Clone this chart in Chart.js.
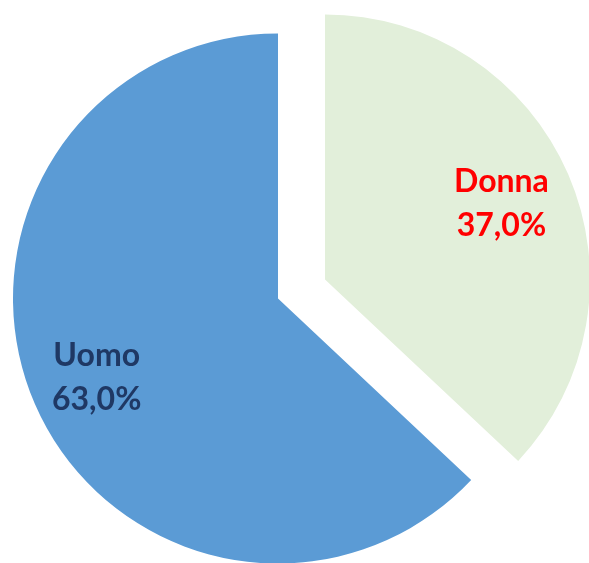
<!DOCTYPE html>
<html>
<head>
<meta charset="utf-8">
<script src="https://cdn.jsdelivr.net/npm/chart.js@4/dist/chart.umd.min.js"></script>
<style>
html,body{margin:0;padding:0;background:#fff;}
#wrap{width:589px;height:563px;position:relative;}
.layer{position:absolute;left:0;top:0;width:589px;height:563px;}
</style>
</head>
<body>
<div id="wrap">
  <div class="layer"><canvas id="cBase"></canvas></div>
  <div class="layer"><canvas id="cExploded"></canvas></div>
</div>
<script>
const categories = ["Donna", "Uomo"];
const values = [37.0, 63.0];
const valueLabels = ["37,0%", "63,0%"];

const sliceColors = ["#E2EFDA", "#5B9BD5"];
const labelColors = ["#FF0000", "#1F3864"];
const explodedIndex = 0;          // "Donna" slice is pulled out
const labelRadiusFrac = [0.709, 0.762];

function makeLabelPlugin(visibleIndex) {
  return {
    id: 'sliceLabels' + visibleIndex,
    afterDatasetsDraw(chart) {
      const ctx = chart.ctx;
      const arc = chart.getDatasetMeta(0).data[visibleIndex];
      if (!arc) return;
      const p = arc.getProps(['x','y','startAngle','endAngle','outerRadius'], true);
      const mid = (p.startAngle + p.endAngle) / 2;
      const d = p.outerRadius * labelRadiusFrac[visibleIndex];
      const cx = p.x + Math.cos(mid) * d + 4;
      const cy = p.y + Math.sin(mid) * d + 9;
      ctx.save();
      ctx.font = 'bold 32px Lato, "Open Sans", sans-serif';
      ctx.textAlign = 'center';
      ctx.textBaseline = 'alphabetic';
      ctx.fillStyle = labelColors[visibleIndex];
      ctx.fillText(categories[visibleIndex], cx, cy - 22);
      ctx.fillText(valueLabels[visibleIndex], cx, cy + 22);
      ctx.restore();
    }
  };
}

function makePie(canvasId, visibleIndex, padding) {
  return new Chart(document.getElementById(canvasId), {
    type: 'pie',
    data: {
      labels: categories,
      datasets: [{
        data: values,
        backgroundColor: sliceColors.map((c, i) => i === visibleIndex ? c : 'rgba(0,0,0,0)'),
        borderWidth: 0,
        hoverOffset: 0,
        clip: false
      }]
    },
    options: {
      responsive: true,
      maintainAspectRatio: false,
      animation: false,
      events: [],
      radius: 265,
      layout: { padding: padding },
      plugins: {
        legend: { display: false },
        tooltip: { enabled: false }
      }
    },
    plugins: [makeLabelPlugin(visibleIndex)]
  });
}

// base pie (Uomo), centre at (278, 298.5)
makePie('cBase', 1, { left: 0, right: 33, top: 34, bottom: 0 });
// exploded slice (Donna), same pie moved out along its bisector, centre at (325, 279.5)
makePie('cExploded', explodedIndex, { left: 61, right: 0, top: 0, bottom: 4 });
</script>
</body>
</html>
